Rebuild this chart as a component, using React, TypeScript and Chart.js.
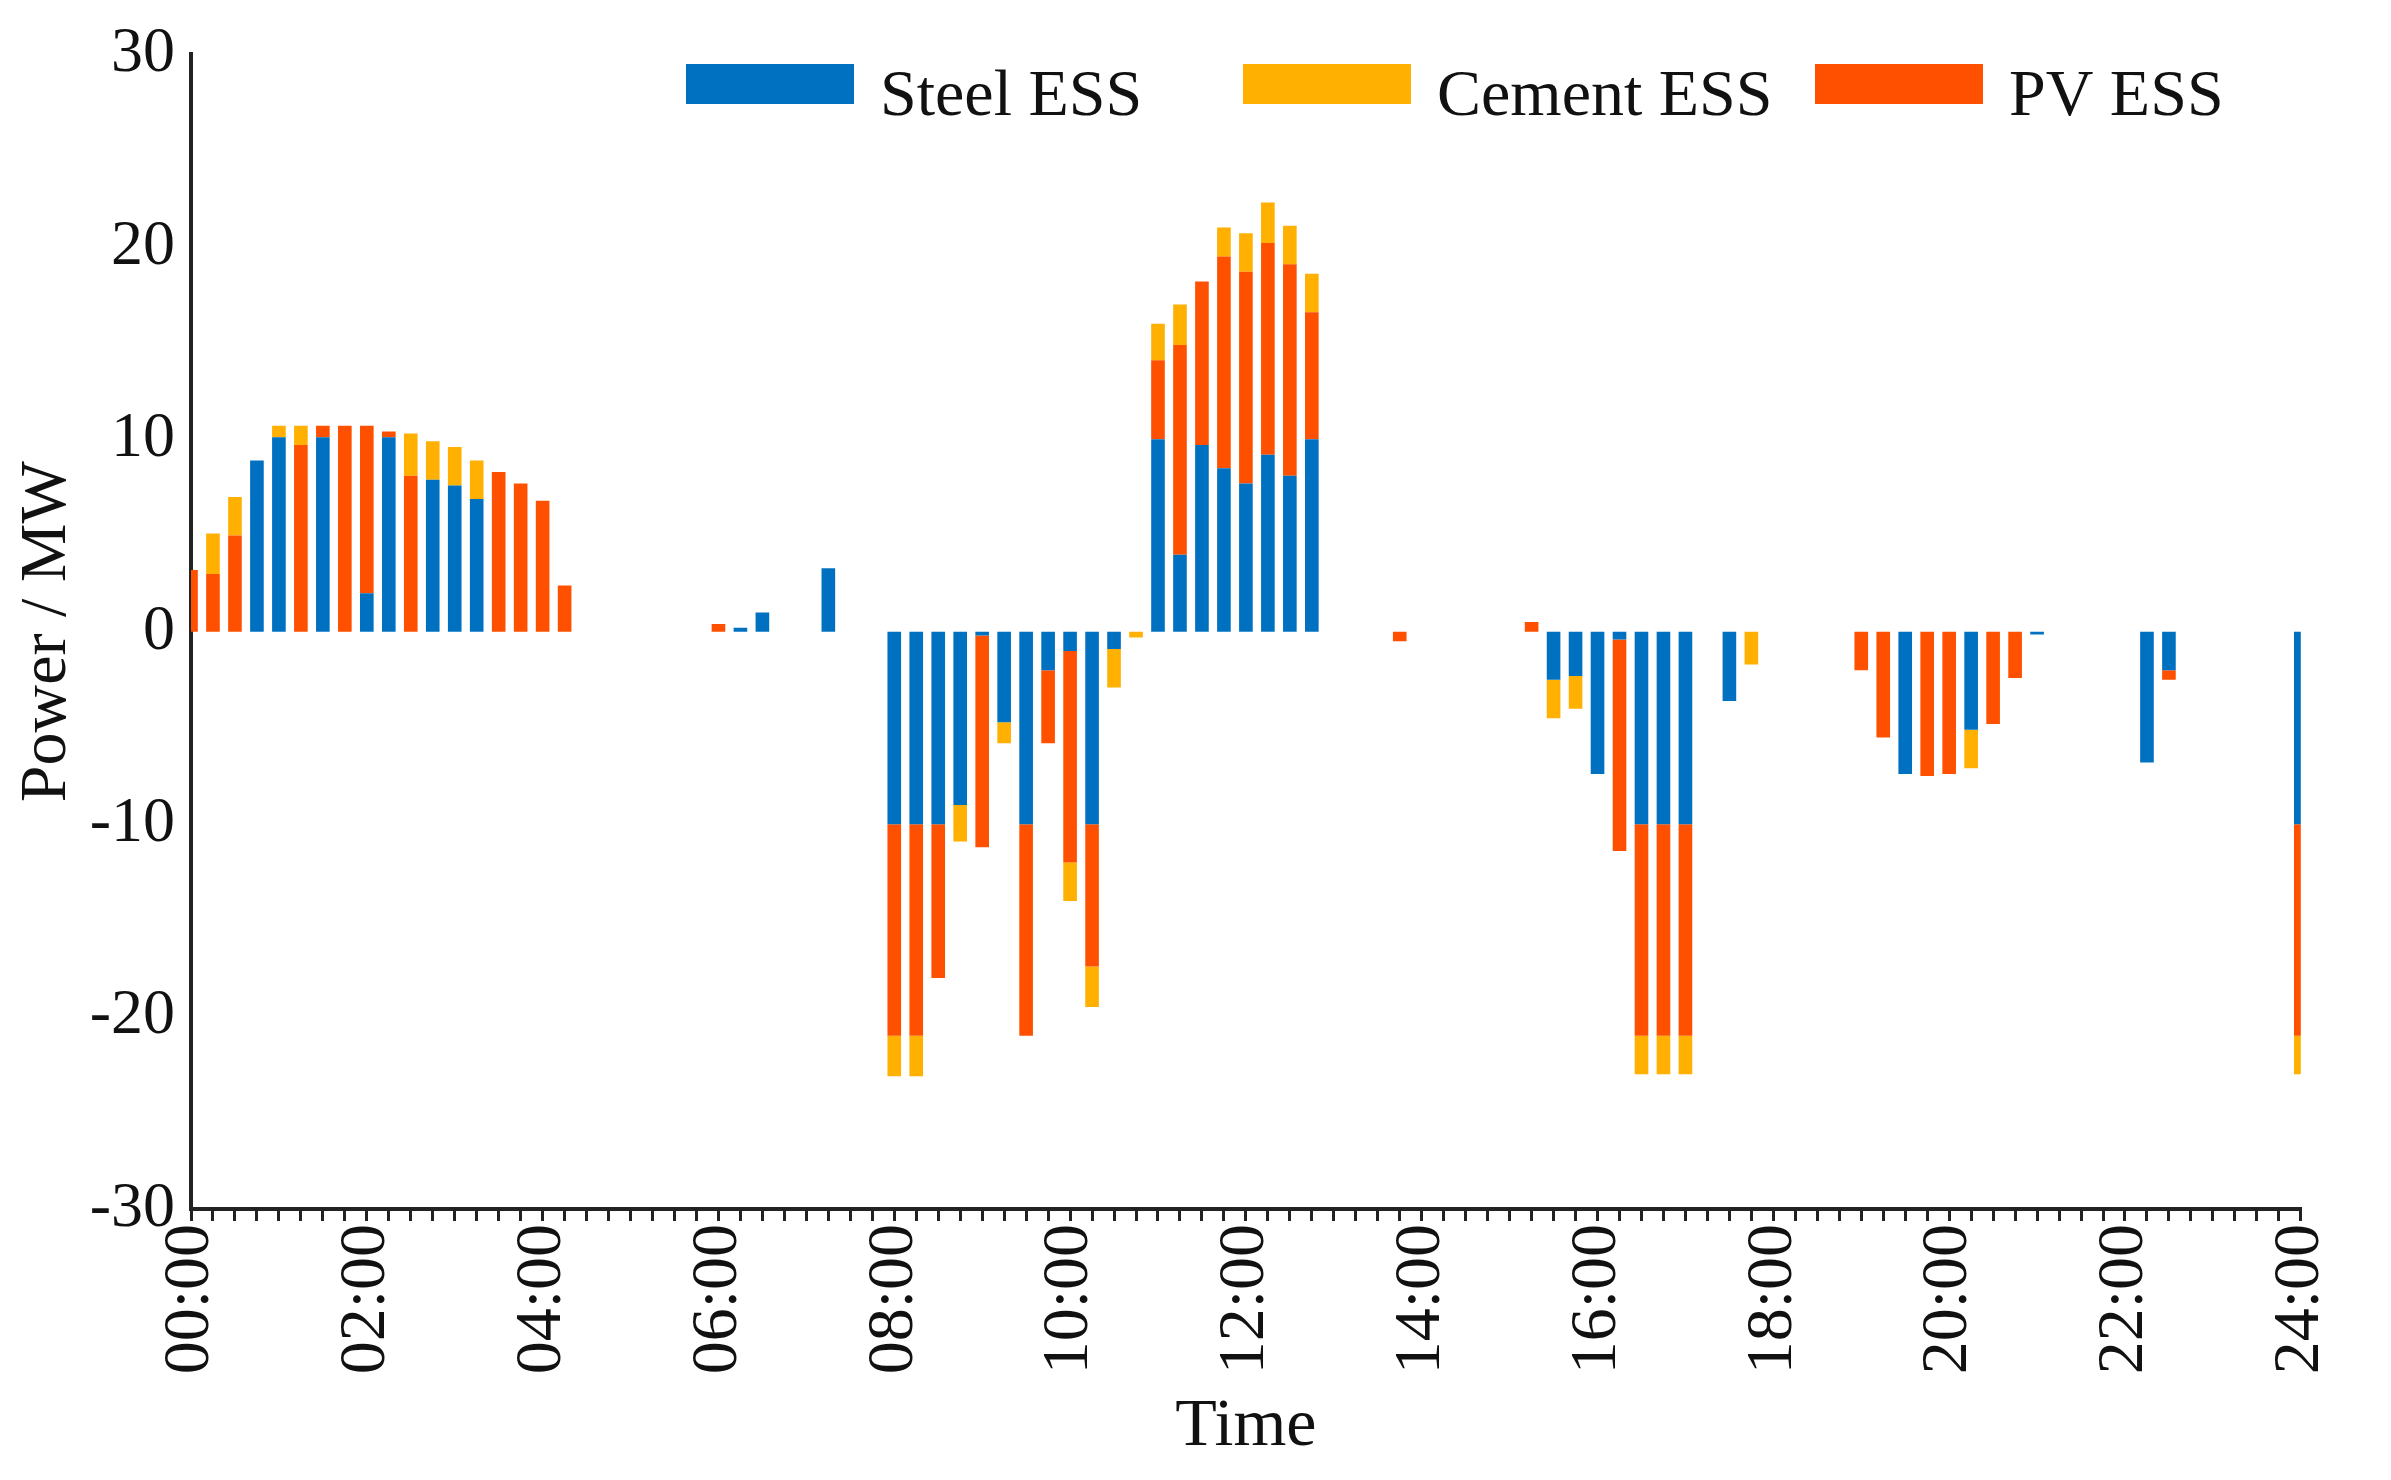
import React, { useEffect, useRef } from "react";
import { Chart, registerables } from "chart.js";
Chart.register(...registerables);

const labels: string[] = [];
for (let h = 0; h <= 24; h++) for (let q = 0; q < 4; q++) if (!(h === 24 && q > 0)) labels.push(String(h).padStart(2, "0") + ":" + String(q * 15).padStart(2, "0"));

const seriesNames = ["Steel ESS", "PV ESS", "Cement ESS"];
const seriesColors = ["#0070C0", "#FF5000", "#FFB000"];
const legendOrder = [0, 2, 1];
const yTicks = [-30, -20, -10, 0, 10, 20, 30];

const steel = [
  0, 0, 0, 8.9, 10.1, 0, 10.1, 0,
  2.0, 10.1, 0, 7.9, 7.6, 6.9, 0, 0,
  0, 0, 0, 0, 0, 0, 0, 0,
  0, 0.2, 1.0, 0, 0, 3.3, 0, 0,
  -10, -10, -10, -9.0, -0.2, -4.7, -10, -2.0,
  -1.0, -10, -0.9, 0, 10.0, 4.0, 9.7, 8.5,
  7.7, 9.2, 8.1, 10.0, 0, 0, 0, 0,
  0, 0, 0, 0, 0, 0, -2.5, -2.3,
  -7.4, -0.4, -10, -10, -10, 0, -3.6, 0,
  0, 0, 0, 0, 0, 0, -7.4, 0,
  0, -5.1, 0, 0, -0.15, 0, 0, 0,
  0, -6.8, -2.0, 0, 0, 0, 0, 0,
  -10,
];
const pv = [
  3.2, 3.0, 5.0, 0, 0, 9.7, 0.6, 10.7,
  8.7, 0.3, 8.1, 0, 0, 0, 8.3, 7.7,
  6.8, 2.4, 0, 0, 0, 0, 0, 0,
  0.4, 0, 0, 0, 0, 0, 0, 0,
  -11, -11, -8, 0, -11, 0, -11, -3.8,
  -11, -7.4, 0, 0, 4.1, 10.9, 8.5, 11.0,
  11.0, 11.0, 11.0, 6.6, 0, 0, 0, -0.5,
  0, 0, 0, 0, 0, 0.5, 0, 0,
  0, -11, -11, -11, -11, 0, 0, 0,
  0, 0, 0, 0, -2.0, -5.5, 0, -7.5,
  -7.4, 0, -4.8, -2.4, 0, 0, 0, 0,
  0, 0, -0.5, 0, 0, 0, 0, 0,
  -11,
];
const cement = [
  0, 2.1, 2.0, 0, 0.6, 1.0, 0, 0,
  0, 0, 2.2, 2.0, 2.0, 2.0, 0, 0,
  0, 0, 0, 0, 0, 0, 0, 0,
  0, 0, 0, 0, 0, 0, 0, 0,
  -2.1, -2.1, 0, -1.9, 0, -1.1, 0, 0,
  -2.0, -2.1, -2.0, -0.3, 1.9, 2.1, 0, 1.5,
  2.0, 2.1, 2.0, 2.0, 0, 0, 0, 0,
  0, 0, 0, 0, 0, 0, -2.0, -1.7,
  0, 0, -2, -2, -2, 0, 0, -1.7,
  0, 0, 0, 0, 0, 0, 0, 0,
  0, -2.0, 0, 0, 0, 0, 0, 0,
  0, 0, 0, 0, 0, 0, 0, 0,
  -2,
];

const FONT = "'Liberation Serif', 'Times New Roman', serif";

const legendPlugin = {
  id: "customLegend",
  afterDraw(chart: any) {
    const ctx = chart.ctx;
    const boxes = [678, 1235, 1807];
    ctx.save();
    ctx.font = `66px ${FONT}`;
    ctx.textBaseline = "middle";
    legendOrder.forEach((d, k) => {
      const x = boxes[k];
      ctx.fillStyle = seriesColors[d];
      ctx.fillRect(x, 56, 168, 40);
      ctx.fillStyle = "#111";
      ctx.fillText(seriesNames[d], x + 194, 90);
    });
    ctx.restore();
  },
};

export default function App() {
  const ref = useRef<HTMLCanvasElement>(null);
  useEffect(() => {
    const vals = [steel, pv, cement];
    const chart = new Chart(ref.current!, {
      type: "bar",
      data: {
        labels,
        datasets: vals.map((v, i) => ({
          label: seriesNames[i],
          data: v,
          backgroundColor: seriesColors[i],
          barPercentage: 0.62,
          categoryPercentage: 1,
        })),
      },
      options: {
        animation: false,
        responsive: true,
        maintainAspectRatio: false,
        layout: { padding: { top: 26, right: 40, left: 0, bottom: 0 } },
        plugins: { legend: { display: false }, tooltip: { enabled: false } },
        scales: {
          x: {
            stacked: true,
            offset: false,
            grid: { display: true, drawOnChartArea: false, offset: false, tickLength: 12, color: "#222", lineWidth: 3 },
            border: { color: "#222", width: 4 },
            ticks: {
              autoSkip: false,
              maxRotation: 90,
              minRotation: 90,
              color: "#111",
              font: { family: FONT, size: 66 },
              callback: (_v: any, i: number) => (i % 8 === 0 ? labels[i] : ""),
            },
            title: { display: true, text: "Time", color: "#111", font: { family: FONT, size: 68 }, padding: { top: 0 } },
            afterFit: (s: any) => { s.height = 263; },
          },
          y: {
            stacked: true,
            min: -30,
            max: 30,
            afterBuildTicks: (s: any) => { s.ticks = yTicks.map((v) => ({ value: v })); },
            grid: { display: false },
            border: { color: "#222", width: 4 },
            ticks: { color: "#111", font: { family: FONT, size: 64 }, padding: 8 },
            title: { display: true, text: "Power / MW", color: "#111", font: { family: FONT, size: 66 }, padding: 0 },
            afterFit: (s: any) => { s.width = 183; },
          },
        },
      },
      plugins: [legendPlugin],
    });
    return () => chart.destroy();
  }, []);
  return (
    <div style={{ width: 2375, height: 1464, position: "relative" }}>
      <canvas ref={ref} />
    </div>
  );
}
